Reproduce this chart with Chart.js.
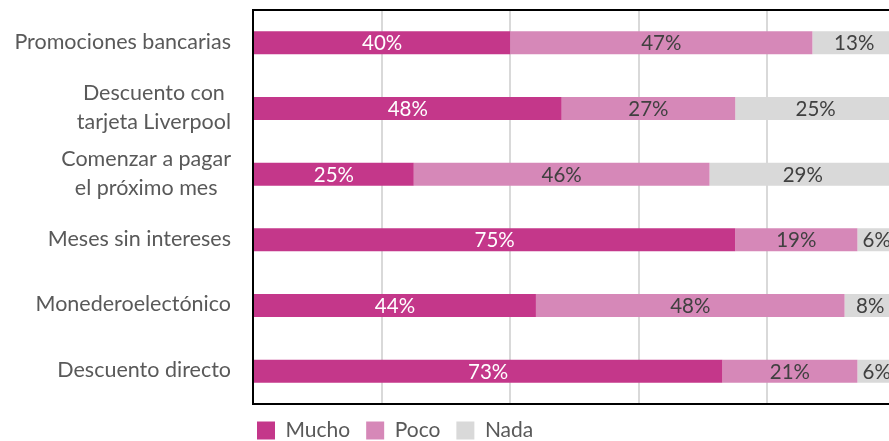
<!DOCTYPE html>
<html>
<head>
<meta charset="utf-8">
<script src="https://cdn.jsdelivr.net/npm/chart.js@4.4.0/dist/chart.umd.min.js"></script>
<style>
  html, body { margin: 0; padding: 0; background: #fff; overflow: hidden; }
  #wrap { width: 900px; height: 441px; position: relative; }
</style>
</head>
<body>
<div id="wrap"><canvas id="chart"></canvas></div>
<script>
// categories (one array of lines per label)
const categories = [
  ["Promociones bancarias"],
  ["Descuento con", "tarjeta Liverpool"],
  ["Comenzar a pagar", "el próximo mes"],
  ["Meses sin intereses"],
  ["Monederoelectónico"],
  ["Descuento directo"]
];
const seriesNames = ["Mucho", "Poco", "Nada"];
const mucho = [40, 48, 25, 75, 44, 73];
const poco = [47, 27, 46, 19, 48, 21];
const nada = [13, 25, 29, 6, 8, 6];
const xTicks = [0, 20, 40, 60, 80, 100];

const colors = ["#C4378A", "#D688B8", "#D9D9D9"];
const labelColors = ["#ffffff", "#404040", "#404040"];
const FONT = "Lato, 'Open Sans', sans-serif";

// draws the % labels inside the bars
const valueLabels = {
  id: "valueLabels",
  afterDatasetsDraw(chart) {
    const ctx = chart.ctx;
    ctx.save();
    ctx.font = "20.5px " + FONT;
    ctx.textAlign = "center";
    ctx.textBaseline = "middle";
    chart.data.datasets.forEach((ds, i) => {
      chart.getDatasetMeta(i).data.forEach((bar, j) => {
        ctx.fillStyle = labelColors[i];
        const cx = (bar.x + bar.base) / 2;
        ctx.fillText(ds.data[j] + "%", cx, bar.y + 1);
      });
    });
    ctx.restore();
  }
};

// category labels: block right aligned, lines centred in the block
const categoryLabels = {
  id: "categoryLabels",
  afterDraw(chart) {
    const ctx = chart.ctx;
    const y = chart.scales.y;
    ctx.save();
    ctx.font = "21.5px " + FONT;
    ctx.fillStyle = "#595959";
    ctx.textAlign = "center";
    ctx.textBaseline = "middle";
    const lineH = 29;
    categories.forEach((lines, i) => {
      const widest = Math.max(...lines.map(l => ctx.measureText(l).width));
      const cx = chart.chartArea.left - 22 - widest / 2;
      const cy = y.getPixelForValue(i) - (lines.length - 1) * lineH / 2 - 1;
      lines.forEach((l, k) => ctx.fillText(l, cx, cy + k * lineH));
    });
    ctx.restore();
  }
};

// black frame around plot area, legend pulled under the left edge
const frame = {
  id: "frame",
  afterLayout(chart) {
    chart.legend.left = chart.chartArea.left - 12;
  },
  afterDraw(chart) {
    const a = chart.chartArea;
    const ctx = chart.ctx;
    ctx.save();
    ctx.strokeStyle = "#000";
    ctx.lineWidth = 2;
    ctx.strokeRect(a.left, a.top, a.right - a.left, a.bottom - a.top);
    ctx.restore();
  }
};

const values = [mucho, poco, nada];

new Chart(document.getElementById("chart"), {
  type: "bar",
  data: {
    labels: categories.map(l => l.join(" ")),
    datasets: seriesNames.map((name, i) => ({
      label: name,
      data: values[i],
      backgroundColor: colors[i],
      borderWidth: 0,
      categoryPercentage: 1,
      barPercentage: 0.35
    }))
  },
  options: {
    indexAxis: "y",
    responsive: true,
    maintainAspectRatio: false,
    animation: false,
    layout: { padding: { top: 10, right: 4, bottom: -10, left: 0 } },
    scales: {
      x: {
        stacked: true,
        min: xTicks[0],
        max: xTicks[xTicks.length - 1],
        afterBuildTicks(scale) { scale.ticks = xTicks.map(v => ({ value: v })); },
        ticks: { display: false },
        grid: { color: "#D9D9D9", lineWidth: 2, drawTicks: false },
        border: { display: false }
      },
      y: {
        stacked: true,
        ticks: { display: false },
        grid: { display: false, drawTicks: false },
        border: { display: false },
        afterFit(scale) { scale.width = 253; }
      }
    },
    plugins: {
      tooltip: { enabled: false },
      legend: {
        position: "bottom",
        align: "start",
        fullSize: false,
        labels: {
          boxWidth: 18,
          boxHeight: 18,
          padding: 16,
          color: "#595959",
          font: { family: FONT, size: 21 }
        }
      }
    }
  },
  plugins: [valueLabels, categoryLabels, frame]
});
</script>
</body>
</html>
